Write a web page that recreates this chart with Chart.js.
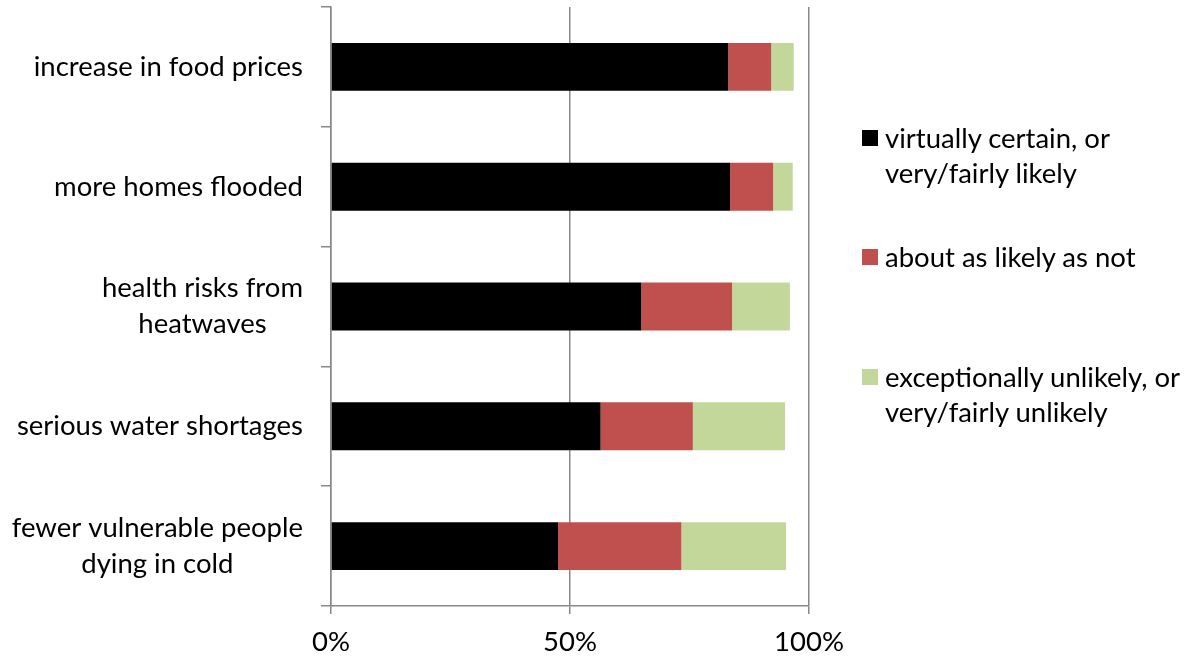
<!DOCTYPE html>
<html>
<head>
<meta charset="utf-8">
<script src="https://cdn.jsdelivr.net/npm/chart.js@4/dist/chart.umd.min.js"></script>
<style>
  html, body { margin: 0; padding: 0; background: #fff; }
  #wrap { position: relative; width: 1191px; height: 660px; }
  #legend { position: absolute; left: 862px; top: 0; font-family: "Lato", sans-serif; font-size: 27.5px; color: #000; }
  .item { position: absolute; left: 0; white-space: nowrap; }
  .box { position: absolute; left: 0; width: 16px; height: 16px; }
  .txt { position: absolute; left: 23px; line-height: 35px; }
</style>
</head>
<body>
<div id="wrap">
  <canvas id="c" width="1191" height="660"></canvas>
  <div id="legend"></div>
</div>
<script>
const categories = [
  "increase in food prices",
  "more homes flooded",
  ["health risks from", "heatwaves"],
  "serious water shortages",
  ["fewer vulnerable people", "dying in cold"]
];
const seriesNames = [
  ["virtually certain, or", "very/fairly likely"],
  ["about as likely as not"],
  ["exceptionally unlikely, or", "very/fairly unlikely"]
];
const likelyValues   = [83.1, 83.5, 64.9, 56.4, 47.5];
const aboutValues    = [9.0, 9.0, 19.0, 19.3, 25.8];
const unlikelyValues = [4.7, 4.1, 12.1, 19.3, 21.9];
const xTickValues = [0, 50, 100];
const seriesColors = ["#000000", "#C0504D", "#C4D79B"];

const FONT = "Lato";
const FSIZE = 27.5;
const LINE_H = 36;
const seriesData = [likelyValues, aboutValues, unlikelyValues];

// Category labels: block right-aligned next to the axis, lines centred within the block
const centeredLabels = {
  id: "centeredLabels",
  afterDraw(chart) {
    const y = chart.scales.y;
    const ctx = chart.ctx;
    const right = y.right - 10 - 18;
    ctx.save();
    ctx.font = FSIZE + "px " + FONT;
    ctx.fillStyle = "#000";
    ctx.textAlign = "center";
    ctx.textBaseline = "middle";
    chart.data.labels.forEach((lab, i) => {
      const lines = Array.isArray(lab) ? lab : [lab];
      const w = Math.max(...lines.map(l => ctx.measureText(l).width));
      const cx = right - w / 2;
      const cy = y.getPixelForTick(i);
      lines.forEach((l, k) => {
        ctx.fillText(l, cx, cy + (k - (lines.length - 1) / 2) * LINE_H);
      });
    });
    ctx.restore();
  }
};

const chart = new Chart(document.getElementById("c"), {
  type: "bar",
  data: {
    labels: categories,
    datasets: seriesData.map((d, i) => ({
      label: seriesNames[i].join(" "),
      data: d,
      backgroundColor: seriesColors[i],
      borderWidth: 0,
      categoryPercentage: 1,
      barPercentage: 0.4
    }))
  },
  plugins: [centeredLabels],
  options: {
    indexAxis: "y",
    responsive: false,
    animation: false,
    devicePixelRatio: 1,
    layout: { padding: { top: 7, right: 382, left: 0, bottom: 0 } },
    plugins: { legend: { display: false }, tooltip: { enabled: false } },
    scales: {
      x: {
        stacked: true,
        min: 0, max: 100,
        afterBuildTicks: (s) => { s.ticks = xTickValues.map(v => ({ value: v })); },
        afterFit: (s) => { s.height = 54; s.paddingLeft = 0; s.paddingRight = 0; },
        grid: { color: "#888888", lineWidth: 1.5, tickLength: 8, drawTicks: true },
        border: { color: "#888888", width: 1.5 },
        ticks: { color: "#000", padding: 12, font: { family: FONT, size: FSIZE }, callback: (v) => v + "%" }
      },
      y: {
        stacked: true,
        afterFit: (s) => { s.width = 331; s.paddingTop = 0; s.paddingBottom = 0; },
        grid: { drawOnChartArea: false, color: "#888888", lineWidth: 1.5, tickLength: 10 },
        border: { color: "#888888", width: 1.5 },
        ticks: { color: "rgba(0,0,0,0)", padding: 16, font: { family: FONT, size: FSIZE, lineHeight: 1.31 } }
      }
    }
  }
});

// HTML legend built from the series names and colours
const legendTops = [120, 239, 359];
const legend = document.getElementById("legend");
seriesNames.forEach((lines, i) => {
  const item = document.createElement("div");
  item.className = "item";
  item.style.top = legendTops[i] + "px";
  const box = document.createElement("div");
  box.className = "box";
  box.style.top = "10px";
  box.style.background = seriesColors[i];
  const txt = document.createElement("div");
  txt.className = "txt";
  txt.innerHTML = lines.join("<br>");
  item.appendChild(box);
  item.appendChild(txt);
  legend.appendChild(item);
});
</script>
</body>
</html>
